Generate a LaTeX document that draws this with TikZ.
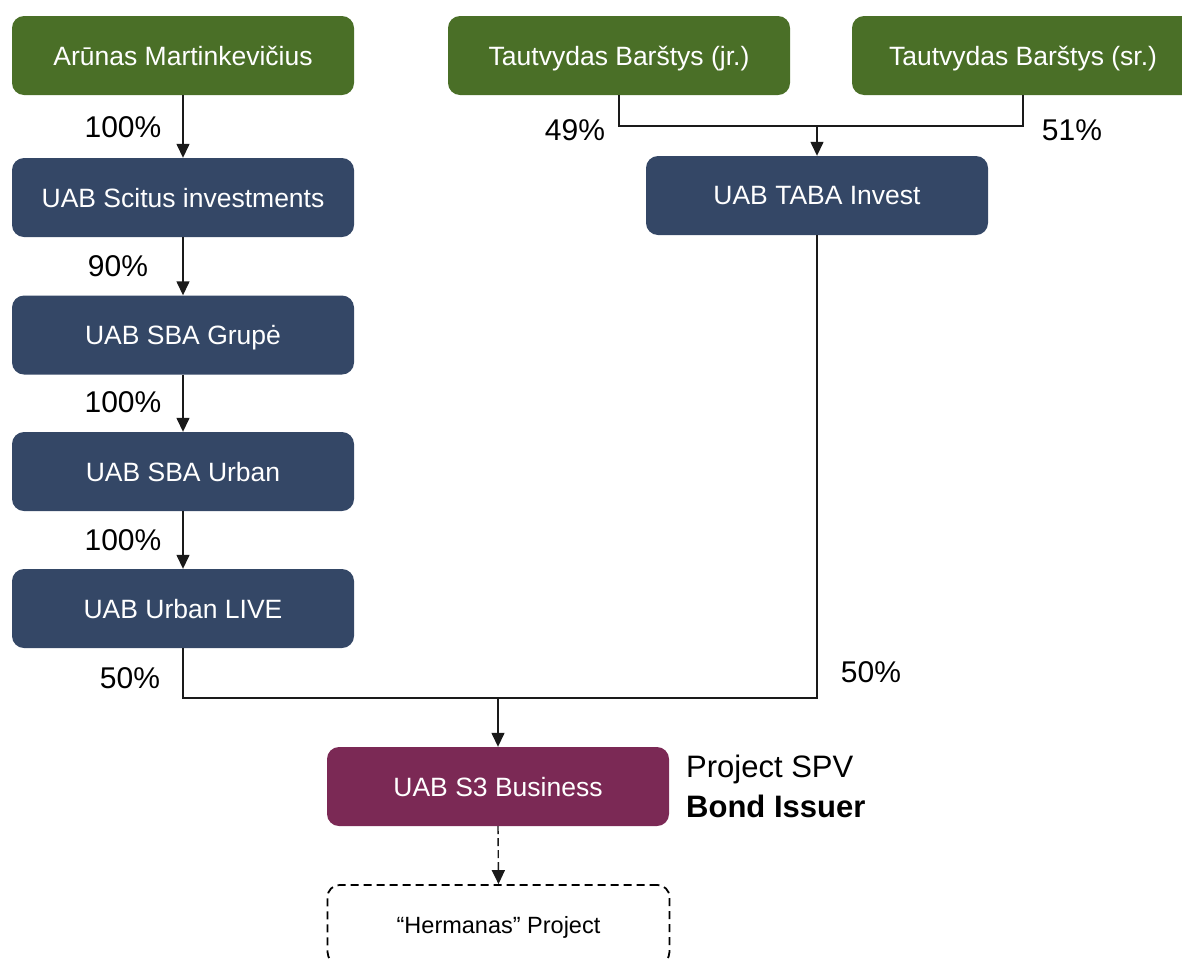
\documentclass[tikz,border=0pt]{standalone}
\usepackage{fontspec}
\setmainfont{Liberation Sans}
\usetikzlibrary{arrows.meta}
\definecolor{pgreen}{HTML}{4A6F27}
\definecolor{pnavy}{HTML}{344766}
\definecolor{ppurple}{HTML}{7B2955}
\definecolor{lgray}{HTML}{1A1A1A}
\begin{document}
\begin{tikzpicture}[x=1pt,y=-1pt,
 box/.style={rounded corners=12pt, minimum width=342pt, minimum height=79pt, text=white, font=\fontsize{26.5}{30}\selectfont, inner sep=0pt, text depth=0pt},
 person/.style={box, fill=pgreen},
 company/.style={box, fill=pnavy},
 spv/.style={box, fill=ppurple},
 project/.style={box, draw=black, line width=1.8pt, dash pattern=on 8pt off 5pt, text=black, font=\fontsize{23.5}{28}\selectfont},
 link/.style={draw=lgray, line width=1.4pt},
 arr/.style={link, -{Triangle[length=14pt,width=13pt]}},
 pct/.style={font=\fontsize{30}{34}\selectfont, inner sep=0pt},
 side/.style={font=\fontsize{31}{36}\selectfont, inner sep=0pt, anchor=west},
]
\useasboundingbox (0,0) rectangle (1182,959);
\clip (0,0) rectangle (1182,959);

\node[person] (arunas) at (183,55.5) {Arūnas Martinkevičius};
\node[person] (jr) at (619,55.5) {Tautvydas Barštys (jr.)};
\node[person] (sr) at (1023,55.5) {Tautvydas Barštys (sr.)};
\node[company] (scitus) at (183,197.5) {UAB Scitus investments};
\node[company] (taba) at (817,195.5) {UAB TABA Invest};
\node[company] (grupe) at (183,335) {UAB SBA Grupė};
\node[company] (urban) at (183,471.5) {UAB SBA Urban};
\node[company] (live) at (183,608.5) {UAB Urban LIVE};
\node[spv] (s3) at (498,786.5) {UAB S3 Business};
\node[project] (herm) at (498.5,924.5) {“Hermanas” Project};

\coordinate (tj) at (817,126);
\coordinate (bj) at (498,698);

\draw[arr] (arunas) -- (scitus);
\draw[arr] (scitus) -- (grupe);
\draw[arr] (grupe) -- (urban);
\draw[arr] (urban) -- (live);
\draw[link] (jr.south) |- (tj);
\draw[link] (sr.south) |- (tj);
\draw[arr] (tj) -- (taba.north);
\draw[link] (live.south) |- (bj);
\draw[link] (taba.south) |- (bj);
\draw[arr] (bj) -- (s3.north);
\draw[arr, dash pattern=on 8pt off 4pt] (s3.south) -- (herm.north);

\node[pct] (p1) at (123,127) {100\%};
\node[pct] (p2) at (575,130) {49\%};
\node[pct] (p3) at (1072,130) {51\%};
\node[pct] (p4) at (118,266) {90\%};
\node[pct] (p5) at (123,402) {100\%};
\node[pct] (p6) at (123,540) {100\%};
\node[pct] (p7) at (130,678) {50\%};
\node[pct] (p8) at (871,672) {50\%};

\node[side] (spvlbl) at (686,769) {Project SPV};
\node[side, font=\fontsize{31}{36}\selectfont\bfseries] (bondlbl) at (686,806) {Bond Issuer};
\end{tikzpicture}
\end{document}
